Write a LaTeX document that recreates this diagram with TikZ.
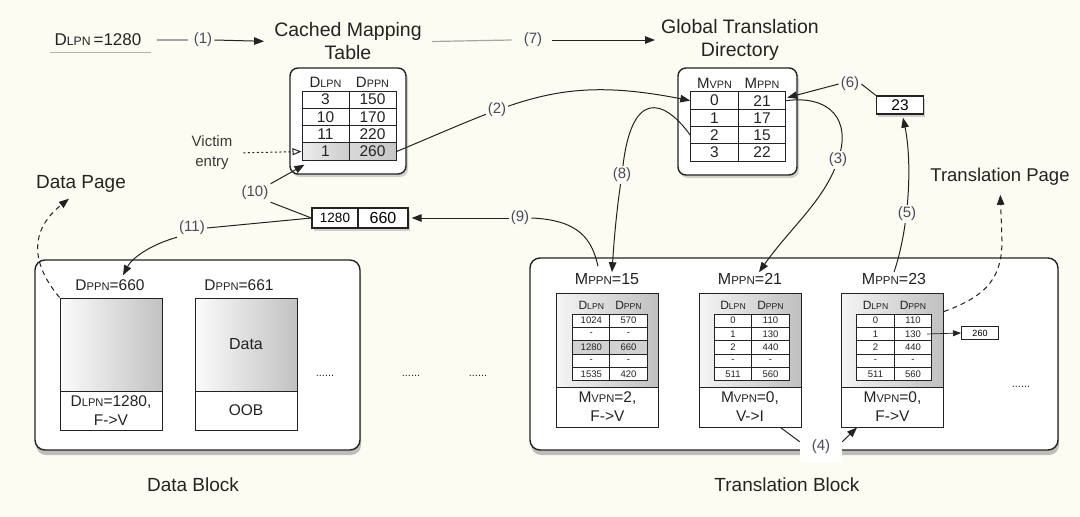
\documentclass[tikz,border=0pt]{standalone}
\usepackage{fontspec}
\setmainfont{Liberation Sans}
\usepackage{graphicx}
\usetikzlibrary{arrows.meta,shadows,calc}
\definecolor{bg}{RGB}{253,252,243}
\definecolor{ink}{RGB}{35,35,35}
\definecolor{lblc}{RGB}{70,76,95}
\newcommand{\sm}[1]{\scalebox{0.72}{#1}}
\newcommand{\fsz}[1]{\fontsize{#1}{#1}\selectfont}
\pgfdeclarelayer{back}\pgfdeclarelayer{front}
\pgfsetlayers{back,main,front}
\begin{document}
\begin{tikzpicture}[x=1pt,y=-1pt,
  tip/.style={-{Triangle[length=10pt,width=7.5pt]}},
  conn/.style={draw=ink,line width=1pt},
  lbl/.style={font=\fsz{15}, text=lblc, fill=bg, inner sep=2pt},
  ttl/.style={font=\fontsize{19.5}{23}\selectfont, text=ink, align=center, inner sep=2pt},
  txt/.style={font=\fsz{16}, text=ink, inner sep=1pt},
  tbox/.style={draw=ink, line width=1.4pt, rounded corners=8pt, fill=white, inner sep=0pt, drop shadow={shadow xshift=2pt,shadow yshift=-3pt,opacity=0.35}},
  blk/.style={draw=ink, line width=1.4pt, rounded corners=10pt, fill=white, inner sep=0pt, drop shadow={shadow xshift=1pt,shadow yshift=-5pt,opacity=0.5}},
  ccell/.style={draw=ink, line width=1pt, minimum width=47pt, minimum height=17.3pt, inner sep=0pt, font=\fsz{15.5}, text=ink},
  tcell/.style={draw=ink, line width=0.8pt, minimum width=37.3pt, minimum height=13.33pt, inner sep=0pt, font=\fsz{9.5}, text=ink},
  pgup/.style={draw=ink, line width=1pt, left color=gray!8, right color=gray!50, minimum width=102pt, minimum height=94pt, inner sep=0pt, font=\fsz{16}, text=ink},
  pglow/.style={draw=ink, line width=1pt, fill=white, minimum width=102pt, minimum height=40pt, inner sep=0pt, align=center, font=\fontsize{15.5}{19}\selectfont, text=ink},
  smbox/.style={draw=ink, line width=1.2pt, fill=white, inner sep=0pt, drop shadow={shadow xshift=1.5pt,shadow yshift=-2.5pt,opacity=0.35}}
]
\useasboundingbox (0,0) rectangle (1080,517);
\begin{pgfonlayer}{back}
\fill[bg] (0,0) rectangle (1080,517);
\end{pgfonlayer}

% numbered labels (front layer)
\begin{pgfonlayer}{front}
\node[lbl] (l1) at (203,40) {(1)};
\node[lbl] (l7) at (533,40) {(7)};
\node[lbl] (l2) at (497,110) {(2)};
\node[lbl] (l3) at (838,160) {(3)};
\node[lbl] (l6) at (850,84) {(6)};
\node[lbl] (l5) at (907,214) {(5)};
\node[lbl] (l8) at (622,175) {(8)};
\node[lbl] (l9) at (520,218) {(9)};
\node[lbl] (l10) at (255,193) {(10)};
\node[lbl] (l11) at (192,228) {(11)};
\node[lbl,fill=white,minimum width=42pt,minimum height=32pt,inner sep=0pt] (l4) at (821,447) {\raisebox{-6pt}{(4)}};
\end{pgfonlayer}

% titles and texts
\node[txt,font=\fsz{17},inner sep=1pt] (dlpn) at (98,40) {D\sm{LPN}\,=1280};
\draw[gray!60,line width=1pt] ($(dlpn.south west)+(-3,5)$) -- ($(dlpn.south east)+(8,5)$);
\node[ttl] (cmttitle) at (348,41.5) {Cached Mapping\\Table};
\node[ttl] (gtdtitle) at (740,40) {Global Translation\\Directory};
\node[txt,font=\fontsize{15}{20}\selectfont,align=center,text=ink!90] (victim) at (212,153) {Victim\\entry};
\node[txt,font=\fsz{19}] (dpage) at (81,184) {Data Page};
\node[txt,font=\fsz{18.5}] (tpage) at (1000,177) {Translation Page};
\node[txt,font=\fsz{19}] (dblabel) at (193,485) {Data Block};
\node[txt,font=\fsz{19}] (tblabel) at (787,485) {Translation Block};

% cached mapping table
\node[tbox,minimum width=116pt,minimum height=106pt] (cmt) at (348,121) {};
\node[txt,font=\fsz{15}] (ch1) at (325.5,82) {D\sm{LPN}};
\node[txt,font=\fsz{15}] (ch2) at (372.5,82) {D\sm{PPN}};
\foreach \a/\b [count=\i] in {3/150,10/170,11/220} {
  \node[ccell] (ct-\i-1) at (325.5,{91+17.3*(\i-0.5)}) {\a};
  \node[ccell] (ct-\i-2) at (372.5,{91+17.3*(\i-0.5)}) {\b};
}
\node[ccell,left color=gray!15,right color=gray!40] (ct-4-1) at (325.5,151.55) {1};
\node[ccell,left color=gray!30,right color=gray!45] (ct-4-2) at (372.5,151.55) {260};

% global translation directory
\node[tbox,minimum width=119pt,minimum height=107pt] (gtd) at (737.5,121.5) {};
\node[txt,font=\fsz{15}] (gh1) at (714.5,83) {M\sm{VPN}};
\node[txt,font=\fsz{15}] (gh2) at (762,83) {M\sm{PPN}};
\foreach \a/\b [count=\i] in {0/21,1/17,2/15,3/22} {
  \node[ccell,minimum width=47.5pt] (gt-\i-1) at (714.5,{92+17.25*(\i-0.5)}) {\a};
  \node[ccell,minimum width=47.5pt] (gt-\i-2) at (762,{92+17.25*(\i-0.5)}) {\b};
}

% small boxes
\node[smbox,minimum width=47pt,minimum height=18pt,font=\fsz{15.5}] (box23) at (900,105) {23};
\node[smbox,minimum width=46pt,minimum height=20pt,font=\fsz{13.5}] (p1) at (335,218) {1280};
\node[smbox,minimum width=50pt,minimum height=20pt,font=\fsz{16}] (p2) at (383,218) {660};

% data block
\node[blk,minimum width=325pt,minimum height=190pt] (dblock) at (197.5,355) {};
\node[txt,font=\fsz{15.5}] (dppn660) at (110,285) {D\sm{PPN}=660};
\node[txt,font=\fsz{15.5}] (dppn661) at (239,285) {D\sm{PPN}=661};
\node[pgup,minimum height=93pt,left color=gray!3,right color=gray!48] (d1) at (111,344.5) {};
\node[pglow,minimum height=39pt] (d1b) at (111,410.5) {D\sm{LPN}=1280,\\F->V};
\node[pgup,minimum height=93pt,left color=gray!3,right color=gray!48] (d2) at (246,344.5) {Data};
\node[pglow,minimum height=39pt] (d2b) at (246,410.5) {OOB};
\node[txt,font=\fsz{11}] (dots1) at (325,376) {......};
\node[txt,font=\fsz{11}] (dots2) at (411,376) {......};
\node[txt,font=\fsz{11}] (dots3) at (478,376) {......};

% translation block
\node[blk,minimum width=528pt,minimum height=192pt] (tblock) at (794,354) {};
\node[txt,font=\fsz{16}] (mppn15) at (607,279) {M\sm{PPN}=15};
\node[txt,font=\fsz{16}] (mppn21) at (750,279) {M\sm{PPN}=21};
\node[txt,font=\fsz{16}] (mppn23) at (894,279) {M\sm{PPN}=23};
\node[txt,font=\fsz{11}] (dots4) at (1021,387) {......};

\node[pgup] (pA) at (607.5,340) {};
\node[pglow] (pAb) at (607.5,407) {M\sm{VPN}=2,\\F->V};
\node[pgup] (pB) at (750,340) {};
\node[pglow] (pBb) at (750,407) {M\sm{VPN}=0,\\V->I};
\node[pgup] (pC) at (892.5,340) {};
\node[pglow] (pCb) at (892.5,407) {M\sm{VPN}=0,\\F->V};

\node[txt,font=\fsz{12}] (hA1) at (591.3,305) {D\sm{LPN}};
\node[txt,font=\fsz{12}] (hA2) at (628.5,305) {D\sm{PPN}};
\node[txt,font=\fsz{12}] (hB1) at (733,305) {D\sm{LPN}};
\node[txt,font=\fsz{12}] (hB2) at (770.5,305) {D\sm{PPN}};
\node[txt,font=\fsz{12}] (hC1) at (875.5,305) {D\sm{LPN}};
\node[txt,font=\fsz{12}] (hC2) at (913,305) {D\sm{PPN}};
\foreach \a/\b/\c [count=\i] in {1024/570/white,-/-/white,1280/660/gray!35,-/-/white,1535/420/white} {
  \node[tcell,fill=\c] (tA-\i-1) at (591.3,{314+13.33*(\i-0.5)}) {\a};
  \node[tcell,fill=\c] (tA-\i-2) at (628.5,{314+13.33*(\i-0.5)}) {\b};
}
\foreach \a/\b [count=\i] in {0/110,1/130,2/440,-/-,511/560} {
  \node[tcell,fill=white] (tB-\i-1) at (733,{314+13.33*(\i-0.5)}) {\a};
  \node[tcell,fill=white] (tB-\i-2) at (770.5,{314+13.33*(\i-0.5)}) {\b};
  \node[tcell,fill=white] (tC-\i-1) at (875.5,{314+13.33*(\i-0.5)}) {\a};
  \node[tcell,fill=white] (tC-\i-2) at (913,{314+13.33*(\i-0.5)}) {\b};
}
\node[draw=ink,line width=1pt,fill=white,minimum width=37pt,minimum height=13pt,inner sep=0pt,font=\fsz{9}] (box260) at (980,333) {260};

% connectors
\draw[conn,draw=gray!70,line width=1.2pt] ([xshift=14pt]dlpn.east) -- ([xshift=-4pt]l1.west);
\draw[conn,tip,shorten >=8pt] (l1.east) -- (cmttitle.west);
\draw[conn,draw=gray!70,line width=1.2pt] ([xshift=8pt]cmttitle.east) -- ([xshift=-10pt]l7.west);
\draw[conn,tip,shorten >=4pt,shorten <=8pt] (l7.east) -- (gtdtitle.west);
\draw[conn,dash pattern=on 2pt off 2.5pt,-{Triangle[open,length=9pt,width=7pt]},shorten <=10pt] (victim.east) -- (ct-4-1.west);
\draw[conn,tip] (ct-4-2.east) .. controls (520,100) and (560,75) .. (gt-1-1.west);
\draw[conn,tip] (gt-1-2.east) .. controls (830,95) and (852,120) .. (l3.center) .. controls (825,200) and (790,228) .. ([xshift=9pt]mppn21.north);
\draw[conn,tip] (gt-3-1.west) .. controls (665,100) and (630,85) .. (l8.center) .. controls (617,205) and (614,240) .. ([xshift=5pt]mppn15.north);
\draw[conn,tip,shorten >=3pt] (l9.west) -- (p2.east);
\draw[conn] (l9.east) .. controls (580,220) and (592,240) .. ($(mppn15.north)+(-9,-6)$);
\draw[conn,tip] (l10.north east) -- ($(ct-4-1.south west)+(3,4)$);
\draw[conn] (p1.west) -- (l10.south east);
\draw[conn] (p1.west) -- (l11.east);
\draw[conn,tip] (l11.south west) .. controls (150,245) and (132,258) .. ($(dppn660.north)+(13,-3)$);
\draw[conn,tip] (l6.west) -- ($(gt-1-2.east)+(1,-3)$);
\draw[conn] (l6.east) -- (box23.north west);
\draw[conn,tip] (mppn23.north) .. controls (910,225) and (912,160) .. ($(box23.south)+(3,3)$);
\draw[conn] ($(l4.north west)+(0,11)$) -- ($(pBb.south east)+(-21,0)$);
\draw[conn,tip] ($(l4.north east)+(0,11)$) -- ($(pCb.south west)+(16,0)$);
\draw[conn,dash pattern=on 5pt off 4pt,tip,shorten >=8pt] ($(pC.north east)+(0,19)$) .. controls (990,295) and (1002,275) .. (1002,240) -- (tpage.south);
\draw[conn,dash pattern=on 5pt off 4pt,tip] (d1.north west) .. controls (30,262) and (30,230) .. ($(dpage.south)+(-12,5)$);
\draw[conn,line width=0.7pt,-{Triangle[length=8pt,width=6pt]}] ($(tC-2-2.east)+(-5,0)$) -- (box260.west);
\end{tikzpicture}
\end{document}
